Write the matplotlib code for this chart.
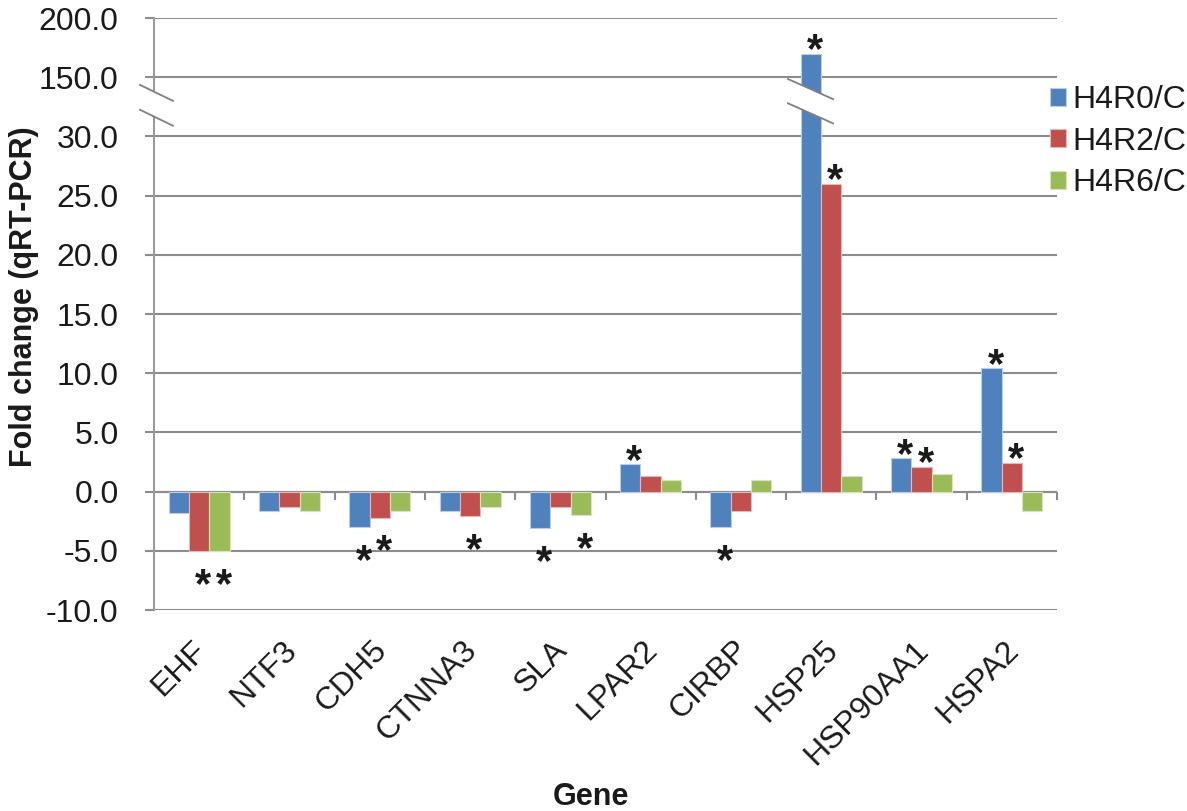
import numpy as np
import matplotlib
matplotlib.use("Agg")
import matplotlib.pyplot as plt
from matplotlib.patches import Polygon
import matplotlib.transforms as mtransforms

genes = ["EHF", "NTF3", "CDH5", "CTNNA3", "SLA", "LPAR2", "CIRBP", "HSP25", "HSP90AA1", "HSPA2"]
series = ["H4R0/C", "H4R2/C", "H4R6/C"]
h4r0 = [-1.8, -1.6, -3.0, -1.6, -3.1, 2.3, -3.0, 170.0, 2.8, 10.4]
h4r2 = [-5.0, -1.3, -2.2, -2.1, -1.3, 1.3, -1.6, 26.0, 2.1, 2.4]
h4r6 = [-5.0, -1.6, -1.6, -1.3, -2.0, 1.0, 1.0, 1.3, 1.5, -1.6]
# significant (gene, series index) pairs marked with *
signif = [("EHF", 1), ("EHF", 2), ("CDH5", 0), ("CDH5", 1), ("CTNNA3", 1),
          ("SLA", 0), ("SLA", 2), ("LPAR2", 0), ("CIRBP", 0),
          ("HSP25", 0), ("HSP25", 1), ("HSP90AA1", 0), ("HSP90AA1", 1),
          ("HSPA2", 0), ("HSPA2", 1)]
yticks = [-10, -5, 0, 5, 10, 15, 20, 25, 30, 150, 200]

colors = ["#4F81BD", "#C0504D", "#9BBB59"]
edges = ["#B9CDE5", "#E6B9B8", "#D7E4BD"]
grid_c = "#8C8C8C"
txt_c = "#1a1a1a"


# broken axis: 0..30 linear, 30..150 squeezed, 150..200 at 10 units / step
def fwd(y):
    y = np.asarray(y, dtype=float)
    return np.where(y <= 30, y, np.where(y < 150, 30 + (y - 30) / 24.0, 35 + (y - 150) / 10.0))


def inv(t):
    t = np.asarray(t, dtype=float)
    return np.where(t <= 30, t, np.where(t < 35, 30 + (t - 30) * 24.0, 150 + (t - 35) * 10.0))


plt.rcParams['font.family'] = ['Liberation Sans', 'DejaVu Sans']

fig = plt.figure(figsize=(11.87, 8.11), dpi=100)
ax = fig.add_axes([154 / 1187, 201 / 811, 903 / 1187, 592 / 811])
ax.set_yscale('function', functions=(fwd, inv))

x = np.arange(len(genes))
w = 0.225
vals = [h4r0, h4r2, h4r6]
for i, v in enumerate(vals):
    ax.bar(x + (i - 1) * w, v, w, color=colors[i], edgecolor=edges[i], linewidth=0.8,
           label=series[i], zorder=3)

ax.set_xlim(-0.5, len(genes) - 0.5)
ax.set_ylim(-10, 200)
ax.set_yticks(yticks)
ax.set_yticklabels(["%.1f" % t for t in yticks])
ax.yaxis.grid(True, color=grid_c, linewidth=1.5)
ax.set_axisbelow(True)
for s in ["top", "right", "bottom"]:
    ax.spines[s].set_visible(False)
ax.spines["left"].set_color("#9A9A9A")
ax.spines["left"].set_linewidth(1.5)
ax.tick_params(axis='y', length=6.5, width=1.5, color=grid_c, pad=19, labelsize=23, labelcolor=txt_c)

ax.set_xticks(x)
ax.set_xticklabels(genes)
ax.tick_params(axis='x', length=0, pad=18, labelsize=23, labelcolor=txt_c)
shift = mtransforms.ScaledTranslation(-8 / 100, 0, fig.dpi_scale_trans)
for lab in ax.get_xticklabels():
    lab.set_rotation(45)
    lab.set_ha('right')
    lab.set_va('top')
    lab.set_rotation_mode('anchor')
    lab.set_transform(lab.get_transform() + shift)

# category axis at zero with boundary ticks
ax.axhline(0, color=grid_c, linewidth=1.5, zorder=2)
ax.plot(np.arange(len(genes)) + 0.5, np.zeros(len(genes)), linestyle='none',
        marker=3, markersize=6, markeredgewidth=1.5, color=grid_c, zorder=2, clip_on=False)

# asterisks
for g, si in signif:
    gi = genes.index(g)
    v = vals[si][gi]
    dy = -6 if v > 0 else -33
    ax.annotate("*", xy=(gi + (si - 1) * w, v), xytext=(3, dy), textcoords='offset points',
                ha='center', va='baseline', fontsize=30, fontweight='bold', color=txt_c,
                zorder=5)


# break marks
def draw_break(trans, x0, x1, y_top, y_bot, dy):
    band = Polygon([[x0, y_top], [x1, y_top - dy], [x1, y_bot - dy], [x0, y_bot]],
                   closed=True, facecolor='white', edgecolor='none', transform=trans,
                   clip_on=False, zorder=4)
    ax.add_patch(band)
    for yy in (y_top, y_bot):
        ax.plot([x0, x1], [yy, yy - dy], color="#7F7F7F", linewidth=1.3, transform=trans,
                clip_on=False, zorder=4.5)


draw_break(ax.transAxes, -0.0155, 0.021, 0.887, 0.845, 0.027)
bar_tr = mtransforms.blended_transform_factory(ax.transData, ax.transAxes)
hx = 7 - w
draw_break(bar_tr, hx - 0.255, hx + 0.245, 0.897, 0.856, 0.034)

fig.legend(loc='upper left', bbox_to_anchor=(1050 / 1187, 1 - 85 / 811), frameon=False,
           fontsize=23, handlelength=0.5, handleheight=0.5, handletextpad=0.2,
           labelspacing=0.36, borderpad=0, borderaxespad=0, labelcolor=txt_c)

fig.text(32 / 1187, 1 - 297 / 811, "Fold change (qRT-PCR)", rotation=90, rotation_mode='anchor',
         ha='center', va='baseline', fontsize=22, fontweight='bold', color=txt_c)
fig.text(591 / 1187, 6 / 811, "Gene", ha='center', va='baseline', fontsize=22,
         fontweight='bold', color=txt_c)

fig.savefig("out.png", dpi=100, facecolor='white')
